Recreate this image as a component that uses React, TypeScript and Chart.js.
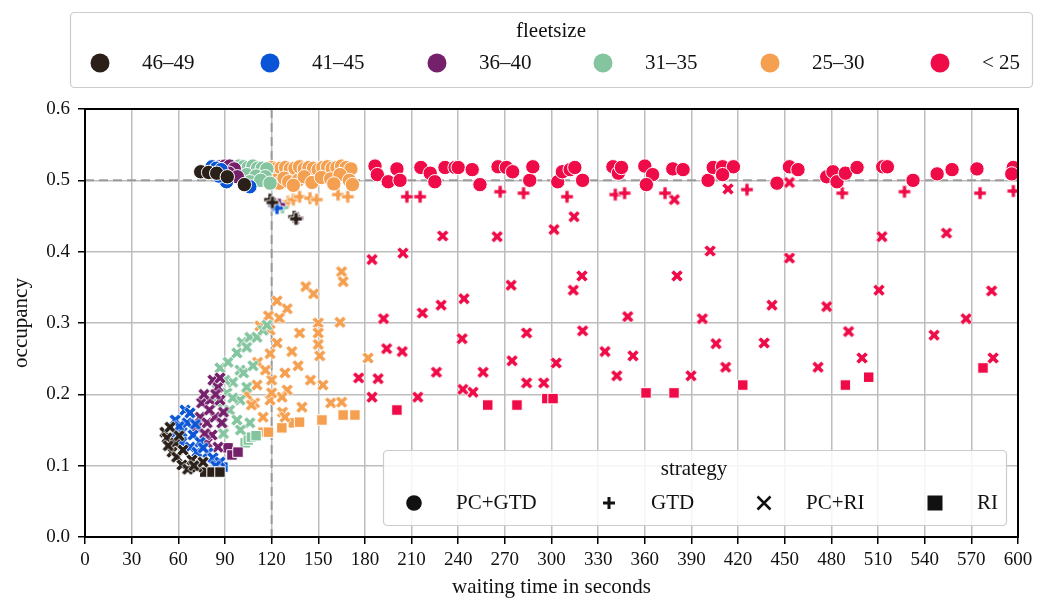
import React, { useEffect, useRef } from "react";
import { Chart, registerables } from "chart.js";
Chart.register(...registerables);

// ---------- tick / label data ----------
const xTicks = [0, 30, 60, 90, 120, 150, 180, 210, 240, 270, 300, 330, 360, 390, 420, 450, 480, 510, 540, 570, 600];
const yTicks = [0, 0.1, 0.2, 0.3, 0.4, 0.5, 0.6];
const fleetLabels = ["46–49", "41–45", "36–40", "31–35", "25–30", "< 25"];
const fleetColors = ["#2a2019", "#0a55d6", "#75206b", "#84c59f", "#f4a050", "#ee0b47"];
const strategyLabels = ["PC+GTD", "GTD", "PC+RI", "RI"];
const targetOccupancy = 0.5;
const targetWait = 120;

// ---------- data: [waiting time (s), occupancy] ----------
// 46–49
const blkPCGTD = [[74.4, 0.512], [79.5, 0.511], [84.7, 0.51], [91.5, 0.505], [102.5, 0.494]];
const blkGTD = [[119, 0.473], [120.5, 0.469], [134.5, 0.449], [135.7, 0.446]];
const blkPCRI = [[51.4, 0.147], [52.7, 0.139], [54.7, 0.154], [56, 0.119], [58, 0.132], [59, 0.112], [62.4, 0.101], [63, 0.122], [66, 0.095], [68.8, 0.108], [72, 0.098], [75.9, 0.105], [53.5, 0.128], [60.5, 0.142], [70, 0.1]];
const blkRI = [[77, 0.091], [81.7, 0.091], [86.8, 0.091]];
// 41–45
const bluPCGTD = [[81.7, 0.519], [84.5, 0.517], [87.5, 0.515], [91, 0.498], [106, 0.491], [86, 0.506]];
const bluGTD = [[121.5, 0.465], [123.5, 0.461]];
const bluPCRI = [[58, 0.164], [58, 0.146], [62.4, 0.147], [62.4, 0.133], [64.3, 0.178], [65.6, 0.16], [67.5, 0.174], [67.5, 0.126], [69.5, 0.143], [72, 0.119], [74, 0.133], [79, 0.118], [82.3, 0.111], [86.8, 0.105], [71, 0.158], [76, 0.125], [60.5, 0.155], [84, 0.1]];
const bluRI = [[85.5, 0.104], [88.7, 0.098]];
// 36–40
const purPCGTD = [[86.8, 0.519], [90, 0.52], [93, 0.52], [96, 0.516], [92.5, 0.51], [98, 0.505]];
const purGTD = [[125, 0.466], [136.5, 0.447]];
const purPCRI = [[72, 0.154], [74, 0.168], [75, 0.188], [78.5, 0.16], [78.5, 0.132], [80.4, 0.192], [81.7, 0.143], [82.3, 0.22], [83.6, 0.168], [85.5, 0.21], [85.5, 0.126], [86.8, 0.223], [86.8, 0.192], [88, 0.16], [76.5, 0.2], [80, 0.178], [84, 0.2], [89, 0.175], [77, 0.145]];
const purRI = [[92, 0.125], [94.5, 0.115], [98.4, 0.119]];
// 31–35
const grnPCGTD = [[96, 0.518], [99, 0.52], [102, 0.519], [105, 0.518], [108, 0.52], [111, 0.517], [114, 0.517], [117, 0.516], [104, 0.508], [110, 0.506], [116, 0.505], [106, 0.498], [113, 0.5], [119, 0.496]];
const grnGTD = [[123.5, 0.466], [127, 0.462]];
const grnPCRI = [[85, 0.188], [85, 0.216], [86.8, 0.237], [88.7, 0.16], [91.3, 0.202], [92, 0.245], [93, 0.178], [95, 0.217], [97.7, 0.258], [97.7, 0.164], [99.7, 0.234], [99.7, 0.192], [101, 0.273], [104, 0.266], [104, 0.21], [106, 0.28], [106, 0.16], [110.6, 0.28], [114.5, 0.29], [117, 0.297], [90, 0.22], [95, 0.195], [102, 0.23], [108, 0.24], [89, 0.145], [100, 0.15]];
const grnRI = [[103, 0.132], [105, 0.136], [107, 0.14], [110, 0.142]];
// 25–30
const orgPCGTD = [[120, 0.518], [123, 0.516], [126, 0.517], [129, 0.518], [132, 0.516], [135, 0.517], [138, 0.519], [141, 0.516], [144, 0.518], [147, 0.517], [150, 0.515], [153, 0.518], [156, 0.519], [159, 0.517], [162, 0.518], [165, 0.52], [168, 0.518], [171, 0.516], [122, 0.5], [125, 0.496], [128, 0.503], [131, 0.498], [137, 0.5], [141, 0.505], [146, 0.497], [152, 0.504], [158, 0.502], [164, 0.508], [170, 0.5], [172, 0.494], [160, 0.495], [134, 0.493]];
const orgGTD = [[130.5, 0.47], [134, 0.473], [138, 0.477], [144.7, 0.475], [149, 0.473], [162.7, 0.48], [169, 0.477]];
const orgPCRI = [[165, 0.372], [166, 0.358], [142, 0.351], [147, 0.341], [123.5, 0.331], [130, 0.32], [118, 0.31], [125, 0.307], [150, 0.3], [164, 0.301], [112.5, 0.296], [119, 0.29], [138, 0.286], [150, 0.286], [123.5, 0.272], [151, 0.254], [111, 0.245], [119, 0.257], [128.6, 0.23], [137, 0.24], [110.6, 0.213], [120, 0.22], [130, 0.206], [153, 0.213], [158, 0.188], [165, 0.189], [139.5, 0.182], [109, 0.188], [127, 0.175], [119, 0.192], [114.5, 0.168], [128.6, 0.168], [126.7, 0.196], [120, 0.202], [182, 0.251], [107, 0.185], [116, 0.234], [133, 0.26], [145, 0.22], [150, 0.27], [104, 0.2]];
const orgRI = [[114.5, 0.147], [118, 0.147], [126.6, 0.153], [134, 0.16], [138, 0.161], [152.4, 0.164], [166, 0.171], [173.6, 0.171]];
// < 25
const redPCGTD = [[186.5, 0.52], [188, 0.508], [195, 0.498], [200.6, 0.516], [202.6, 0.5], [216, 0.518], [222, 0.51], [225, 0.498], [231.5, 0.518], [238, 0.518], [240, 0.518], [249, 0.515], [254, 0.494], [265.6, 0.519], [271, 0.518], [275, 0.512], [286, 0.5], [288, 0.519], [304, 0.498], [307, 0.512], [312, 0.515], [315, 0.518], [320, 0.5], [339.5, 0.519], [343, 0.51], [345, 0.518], [360, 0.52], [365, 0.508], [361, 0.494], [378, 0.516], [384.6, 0.515], [400.7, 0.5], [404, 0.518], [410, 0.519], [417, 0.519], [410, 0.508], [445, 0.496], [453, 0.519], [458.5, 0.515], [477, 0.505], [481, 0.512], [483.6, 0.498], [489, 0.51], [496.5, 0.518], [513, 0.519], [516, 0.519], [532.5, 0.5], [548, 0.509], [557.6, 0.515], [573.6, 0.516], [597, 0.518], [596, 0.509]];
const redGTD = [[207, 0.477], [215.5, 0.477], [267, 0.484], [282, 0.482], [310, 0.477], [341, 0.48], [347, 0.482], [373, 0.482], [425.7, 0.487], [487, 0.482], [527, 0.484], [575.6, 0.482], [597, 0.485]];
const redPCRI = [[230, 0.422], [265, 0.421], [301.6, 0.431], [314.5, 0.449], [184.6, 0.389], [204.5, 0.398], [319.6, 0.366], [314, 0.346], [274, 0.353], [243.7, 0.334], [229, 0.325], [217, 0.314], [192, 0.306], [320, 0.289], [284, 0.286], [242.5, 0.278], [194, 0.264], [204, 0.26], [274.6, 0.247], [303, 0.244], [226, 0.231], [256, 0.231], [176, 0.223], [188.5, 0.222], [284, 0.216], [295, 0.216], [243, 0.207], [249.5, 0.203], [184.6, 0.196], [214, 0.196], [413.5, 0.488], [379, 0.473], [453, 0.497], [512.5, 0.519], [573.6, 0.516], [512.5, 0.421], [554, 0.426], [402, 0.401], [453, 0.391], [380.7, 0.366], [510.6, 0.346], [583, 0.345], [349, 0.309], [397, 0.306], [441.8, 0.325], [477, 0.323], [566.6, 0.306], [334.4, 0.26], [352.4, 0.254], [405.8, 0.271], [436.7, 0.272], [491, 0.288], [546, 0.283], [342, 0.226], [389.7, 0.226], [412, 0.238], [471.4, 0.238], [499.7, 0.251], [584, 0.251]];
const redRI = [[200.6, 0.178], [259, 0.185], [277.8, 0.185], [297, 0.194], [301, 0.194], [360.8, 0.202], [378.8, 0.202], [423, 0.213], [489, 0.213], [504, 0.224], [577.5, 0.237]];

const groups = [
  [blkPCGTD, blkGTD, blkPCRI, blkRI],
  [bluPCGTD, bluGTD, bluPCRI, bluRI],
  [purPCGTD, purGTD, purPCRI, purRI],
  [grnPCGTD, grnGTD, grnPCRI, grnRI],
  [orgPCGTD, orgGTD, orgPCRI, orgRI],
  [redPCGTD, redGTD, redPCRI, redRI],
];

const FONT = "'Liberation Serif', 'DejaVu Serif', serif";

function starPath(ctx: CanvasRenderingContext2D, cx: number, cy: number, L: number, t: number, rot: number) {
  const pts = [[-t, -L], [t, -L], [t, -t], [L, -t], [L, t], [t, t], [t, L], [-t, L], [-t, t], [-L, t], [-L, -t], [-t, -t]];
  const c = Math.cos(rot), s = Math.sin(rot);
  ctx.beginPath();
  pts.forEach(([px, py], i) => {
    const X = cx + px * c - py * s;
    const Y = cy + px * s + py * c;
    if (i === 0) ctx.moveTo(X, Y); else ctx.lineTo(X, Y);
  });
  ctx.closePath();
}

function makeMarker(color: string, rot: number) {
  const cv = document.createElement("canvas");
  cv.width = 18; cv.height = 18;
  const ctx = cv.getContext("2d")!;
  const L = rot ? 6.6 : 6.2;
  const t = 2.05;
  starPath(ctx, 9, 9, L, t, rot);
  ctx.fillStyle = color;
  ctx.fill();
  ctx.strokeStyle = "#ffffff";
  ctx.lineWidth = 0.8;
  ctx.stroke();
  return cv;
}

const overlay = {
  id: "overlay",
  beforeDatasetsDraw(chart: any) {
    const { ctx, chartArea: a, scales } = chart;
    ctx.save();
    ctx.strokeStyle = "rgba(150,150,150,0.9)";
    ctx.lineWidth = 2;
    ctx.setLineDash([9, 5]);
    const py = scales.y.getPixelForValue(targetOccupancy);
    const px = scales.x.getPixelForValue(targetWait);
    ctx.beginPath();
    ctx.moveTo(a.left, py); ctx.lineTo(a.right, py);
    ctx.moveTo(px, a.top); ctx.lineTo(px, a.bottom);
    ctx.stroke();
    ctx.restore();
  },
  afterDraw(chart: any) {
    const { ctx, chartArea: a } = chart;
    ctx.save();
    ctx.strokeStyle = "#000";
    ctx.lineWidth = 2;
    ctx.strokeRect(a.left, a.top, a.right - a.left, a.bottom - a.top);

    const box = (x0: number, y0: number, x1: number, y1: number) => {
      ctx.beginPath();
      ctx.roundRect(x0 + 0.5, y0 + 0.5, x1 - x0, y1 - y0, 4);
      ctx.fillStyle = "rgba(255,255,255,0.85)";
      ctx.fill();
      ctx.strokeStyle = "#cccccc";
      ctx.lineWidth = 1.2;
      ctx.stroke();
    };
    // fleetsize legend
    box(70, 12, 1032, 87);
    ctx.fillStyle = "#111";
    ctx.font = `21px ${FONT}`;
    ctx.textAlign = "center";
    ctx.textBaseline = "middle";
    ctx.fillText("fleetsize", 551, 31);
    const fx = [100, 270, 437, 603, 770, 940];
    fleetLabels.forEach((lab, i) => {
      ctx.beginPath();
      ctx.arc(fx[i], 63, 9.5, 0, Math.PI * 2);
      ctx.fillStyle = fleetColors[i];
      ctx.fill();
      ctx.fillStyle = "#111";
      ctx.textAlign = "left";
      ctx.fillText(lab, fx[i] + 42, 63);
    });
    // strategy legend
    box(383, 450, 1006, 525);
    ctx.fillStyle = "#111";
    ctx.textAlign = "center";
    ctx.fillText("strategy", 694, 469);
    const sx = [414, 609, 764, 935];
    const my = 503;
    ctx.fillStyle = "#111";
    ctx.beginPath(); ctx.arc(sx[0], my, 7.8, 0, Math.PI * 2); ctx.fill();
    ctx.strokeStyle = "#111";
    ctx.lineWidth = 3;
    ctx.beginPath();
    ctx.moveTo(sx[1] - 6, my); ctx.lineTo(sx[1] + 6, my);
    ctx.moveTo(sx[1], my - 6); ctx.lineTo(sx[1], my + 6);
    ctx.stroke();
    ctx.lineWidth = 2.5;
    ctx.beginPath();
    ctx.moveTo(sx[2] - 6.5, my - 6.5); ctx.lineTo(sx[2] + 6.5, my + 6.5);
    ctx.moveTo(sx[2] + 6.5, my - 6.5); ctx.lineTo(sx[2] - 6.5, my + 6.5);
    ctx.stroke();
    ctx.fillRect(sx[3] - 7.5, my - 7.5, 15, 15);
    ctx.textAlign = "left";
    strategyLabels.forEach((lab, i) => ctx.fillText(lab, sx[i] + 42, my));
    ctx.restore();
  },
};

export default function App() {
  const ref = useRef<HTMLCanvasElement | null>(null);
  useEffect(() => {
    if (!ref.current) return;
    const datasets: any[] = [];
    groups.forEach((g, hi) => {
      const color = fleetColors[hi];
      const plus = makeMarker(color, 0);
      const cross = makeMarker(color, Math.PI / 4);
      g.forEach((pts, si) => {
        const base: any = {
          label: `${fleetLabels[hi]} ${strategyLabels[si]}`,
          data: pts.map(([x, y]) => ({ x, y })),
          backgroundColor: color,
          borderColor: "#ffffff",
          borderWidth: 1,
          clip: 0,
        };
        if (si === 0) { base.pointStyle = "circle"; base.pointRadius = 7.2; }
        if (si === 1) { base.pointStyle = plus; base.pointRadius = 6; }
        if (si === 2) { base.pointStyle = cross; base.pointRadius = 6; }
        if (si === 3) { base.pointStyle = "rect"; base.pointRadius = 7.4; }
        datasets.push(base);
      });
    });
    const tickFont = { family: FONT, size: 19 };
    const titleFont = { family: FONT, size: 21 };
    const chart = new Chart(ref.current, {
      type: "scatter",
      data: { datasets },
      plugins: [overlay],
      options: {
        responsive: false,
        animation: false,
        events: [],
        layout: { padding: { top: 109, right: 28, left: 0, bottom: 0 } },
        plugins: { legend: { display: false }, tooltip: { enabled: false } },
        scales: {
          x: {
            type: "linear",
            min: 0,
            max: 600,
            afterBuildTicks: (s: any) => { s.ticks = xTicks.map((v) => ({ value: v })); },
            afterFit: (s: any) => { s.height = 67; },
            ticks: { autoSkip: false, maxRotation: 0, padding: 5, color: "#111", font: tickFont, callback: (v: any) => String(v) },
            grid: { color: "#bdbdbd", lineWidth: 1.5, tickLength: 7, tickColor: "#000", tickWidth: 1.5 },
            border: { display: true, color: "#000", width: 2 },
            title: { display: true, text: "waiting time in seconds", color: "#111", font: titleFont, padding: { top: 0, bottom: 4 } },
          },
          y: {
            type: "linear",
            min: 0,
            max: 0.6,
            afterBuildTicks: (s: any) => { s.ticks = yTicks.map((v) => ({ value: v })); },
            afterFit: (s: any) => { s.width = 85; },
            ticks: { padding: 8, color: "#111", font: tickFont, callback: (v: any) => Number(v).toFixed(1) },
            grid: { color: "#bdbdbd", lineWidth: 1.5, tickLength: 7, tickColor: "#000", tickWidth: 1.5 },
            border: { display: true, color: "#000", width: 2 },
            title: { display: true, text: "occupancy", color: "#111", font: titleFont, padding: { top: 9, bottom: 0 } },
          },
        },
      } as any,
    });
    return () => chart.destroy();
  }, []);
  return (
    <div style={{ position: "absolute", left: 0, top: 0, width: 1046, height: 604, background: "#fff" }}>
      <canvas ref={ref} width={1046} height={604} style={{ display: "block" }} />
    </div>
  );
}
